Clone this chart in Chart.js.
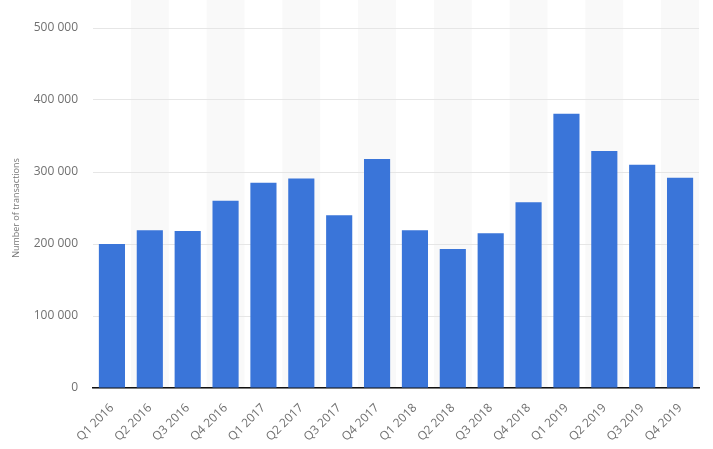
<!DOCTYPE html>
<html>
<head>
<meta charset="utf-8">
<script src="https://cdn.jsdelivr.net/npm/chart.js@4/dist/chart.umd.min.js"></script>
<style>
  html, body { margin: 0; padding: 0; background: #fff; }
  #wrap { width: 713px; height: 449px; position: relative; }
</style>
</head>
<body>
<div id="wrap"><canvas id="c"></canvas></div>
<script>
const categories = ["Q1 2016","Q2 2016","Q3 2016","Q4 2016","Q1 2017","Q2 2017","Q3 2017","Q4 2017","Q1 2018","Q2 2018","Q3 2018","Q4 2018","Q1 2019","Q2 2019","Q3 2019","Q4 2019"];
const transactions = [200000, 219000, 218000, 260000, 285000, 291000, 240000, 318000, 219000, 193000, 215000, 258000, 381000, 329000, 310000, 292000];
const yTicks = [0, 100000, 200000, 300000, 400000, 500000];
const yTitle = "Number of transactions";

const fmt = v => String(v).replace(/\B(?=(\d{3})+(?!\d))/g, ' ');

const stripes = {
  id: 'stripes',
  beforeDraw(chart) {
    const { ctx, chartArea, scales } = chart;
    const x = scales.x;
    const w = x.width / categories.length;
    ctx.save();
    ctx.fillStyle = '#f9f9f9';
    for (let i = 1; i < categories.length; i += 2) {
      const c = x.getPixelForValue(i);
      ctx.fillRect(c - w / 2, 0, w, chartArea.bottom);
    }
    ctx.restore();
  }
};

new Chart(document.getElementById('c'), {
  type: 'bar',
  data: {
    labels: categories,
    datasets: [{
      data: transactions,
      backgroundColor: '#3a75d9',
      categoryPercentage: 0.69,
      barPercentage: 1.0
    }]
  },
  options: {
    responsive: true,
    maintainAspectRatio: false,
    animation: false,
    layout: { padding: { left: 0, right: 14, top: 28, bottom: 0 } },
    plugins: { legend: { display: false }, tooltip: { enabled: false } },
    scales: {
      x: {
        grid: { display: false, drawTicks: false },
        border: { display: true, color: '#111', width: 1.5 },
        ticks: {
          color: '#707070',
          font: { family: 'Open Sans', size: 12 },
          minRotation: 45, maxRotation: 45,
          padding: 13
        },
        afterFit: s => { s.height = 61; }
      },
      y: {
        min: 0, max: 500000,
        afterBuildTicks: s => { s.ticks = yTicks.map(v => ({ value: v })); },
        grid: { color: '#e6e6e6', drawTicks: false, lineWidth: 1 },
        border: { display: false },
        ticks: {
          color: '#707070',
          font: { family: 'Open Sans', size: 12 },
          padding: 15,
          callback: v => fmt(v)
        },
        title: {
          display: true, text: yTitle, color: '#777',
          font: { family: 'Open Sans', size: 9 },
          padding: { top: 11, bottom: 0 }
        },
        afterFit: s => { s.width = 93; }
      }
    }
  },
  plugins: [stripes]
});
</script>
</body>
</html>
